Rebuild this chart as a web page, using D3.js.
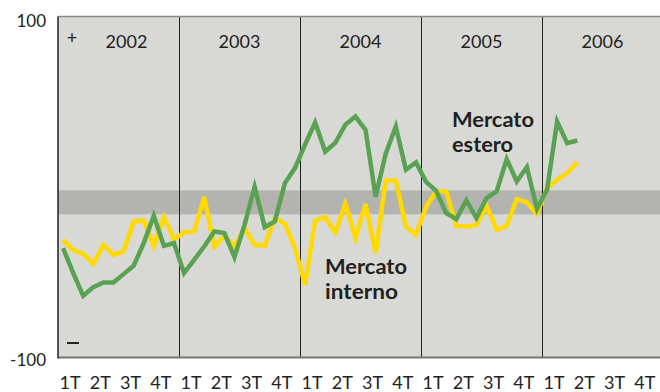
<!DOCTYPE html>
<html>
<head>
<meta charset="utf-8">
<script src="https://cdn.jsdelivr.net/npm/d3@7"></script>
<style>
  body { margin: 0; background: #fff; }
  svg { display: block; font-family: Lato, "Open Sans", sans-serif; }
</style>
</head>
<body>
<script>
// years shown in the header cells
var years = ["2002", "2003", "2004", "2005", "2006"];
var quarters = ["1T", "2T", "3T", "4T"];

// monthly values, Jan 2002 - Apr 2006
var interno = [
    -31.0, -36.8, -39.2, -45.0, -33.9, -39.8, -37.8, -20.2, -19.6, -34.5, -17.7, -30.6,
    -26.7, -26.1, -5.9, -35.2, -28.6, -34.9, -24.1, -33.9, -34.5, -18.2, -21.6, -35.7,
    -57.4, -19.8, -17.7, -26.7, -9.9, -30.0, -9.9, -38.8, 3.8, 3.8, -23.2, -28.0,
    -11.6, -2.6, -2.6, -22.8, -23.2, -22.2, -11.0, -25.1, -22.8, -7.1, -9.1, -15.7,
    -0.8, 4.2, 8.2, 14.6
];
var estero = [
    -35.8, -50.3, -63.8, -58.7, -56.0, -56.0, -51.1, -46.2, -32.9, -16.9, -34.5, -32.9,
    -50.5, -42.7, -34.9, -26.1, -27.0, -41.1, -22.2, 0.0, -23.5, -20.2, 2.3, 11.1,
    24.8, 37.8, 20.8, 25.9, 36.5, 41.3, 33.5, -5.7, 19.5, 35.5, 10.1, 14.4,
    3.0, -2.2, -15.3, -18.8, -7.9, -18.2, -6.5, -2.6, 16.4, 3.2, 11.7, -12.8,
    -1.6, 38.4, 25.7, 27.3
];
// shaded reference band
var band = [-16, -2];

function init() {
    var w = 660;
    var h = 392;
    var left = 58, right = 663, top = 16.5, bottom = 357.5;

    var svg = d3.select("body").append("svg").attr("width", w).attr("height", h);

    var xScale = d3.scaleLinear().domain([0, years.length * 12]).range([left, right]);
    var yScale = d3.scaleLinear().domain([-100, 100]).range([bottom, top]);

    // plot background
    svg.append("rect")
        .attr("x", left).attr("y", top)
        .attr("width", right - left).attr("height", bottom - top)
        .attr("fill", "#d8d9d4");

    svg.append("rect")
        .attr("x", left).attr("y", yScale(band[1]))
        .attr("width", right - left)
        .attr("height", yScale(band[0]) - yScale(band[1]))
        .attr("fill", "#b3b4af");

    // year separators
    svg.selectAll("line.year")
        .data(years.slice(1))
        .enter().append("line")
        .attr("class", "year")
        .attr("x1", function (d, i) { return Math.round(xScale((i + 1) * 12)) + 0.5; })
        .attr("x2", function (d, i) { return Math.round(xScale((i + 1) * 12)) + 0.5; })
        .attr("y1", top).attr("y2", bottom)
        .attr("stroke", "#222").attr("stroke-width", 1);

    // year labels
    svg.selectAll("text.year")
        .data(years)
        .enter().append("text")
        .attr("class", "year")
        .attr("x", function (d, i) { return xScale(i * 12 + 6) + (i == 0 ? 8 : 0); })
        .attr("y", 48)
        .attr("text-anchor", "middle")
        .attr("font-size", 18)
        .attr("fill", "#222")
        .text(function (d) { return d; });

    var line = d3.line()
        .x(function (d, i) { return xScale(i + 0.5); })
        .y(function (d) { return yScale(d); });

    svg.append("path")
        .datum(interno)
        .attr("d", line)
        .attr("fill", "none")
        .attr("stroke", "#ffd900")
        .attr("stroke-width", 4.5)
        .attr("stroke-linejoin", "miter");

    svg.append("path")
        .datum(estero)
        .attr("d", line)
        .attr("fill", "none")
        .attr("stroke", "#5aa253")
        .attr("stroke-width", 4.5)
        .attr("stroke-linejoin", "miter");

    // frame
    svg.append("line")
        .attr("x1", left).attr("x2", right).attr("y1", top).attr("y2", top)
        .attr("stroke", "#8a8a86").attr("stroke-width", 1.5);
    svg.append("line")
        .attr("x1", left).attr("x2", right).attr("y1", bottom).attr("y2", bottom)
        .attr("stroke", "#77776f").attr("stroke-width", 2);
    svg.append("line")
        .attr("x1", left).attr("x2", left).attr("y1", top).attr("y2", bottom + 1)
        .attr("stroke", "#222").attr("stroke-width", 1.5);

    // y axis labels
    var yAxis = d3.axisLeft(yScale).tickValues([-100, 100]).tickSize(0).tickPadding(12)
        .tickFormat(function (d) { return d; });
    var gy = svg.append("g")
        .attr("transform", "translate(" + left + ",0)")
        .call(yAxis);
    gy.select(".domain").remove();
    gy.selectAll("text")
        .attr("font-family", "Lato, 'Open Sans', sans-serif")
        .attr("font-size", 17)
        .attr("fill", "#222")
        .attr("dy", "0.36em");
    gy.selectAll(".tick").attr("transform", function (d) {
        return "translate(0," + (d > 0 ? 21 : 360) + ")";
    });

    // quarter labels
    var qData = [];
    years.forEach(function (y) {
        quarters.forEach(function (q) { qData.push(y + q); });
    });
    var qScale = d3.scaleBand().domain(qData).range([left, right]);
    var xAxis = d3.axisBottom(qScale).tickSize(0).tickPadding(0)
        .tickFormat(function (d) { return d.slice(4); });
    var gx = svg.append("g")
        .attr("transform", "translate(-3," + bottom + ")")
        .call(xAxis);
    gx.select(".domain").remove();
    gx.selectAll("text")
        .attr("font-family", "Lato, 'Open Sans', sans-serif")
        .attr("font-size", 18)
        .attr("fill", "#222")
        .attr("y", 31)
        .attr("dy", 0);

    // plus / minus signs
    svg.append("text")
        .attr("x", 72).attr("y", 44)
        .attr("text-anchor", "middle")
        .attr("font-size", 18)
        .attr("fill", "#222")
        .text("+");
    svg.append("line")
        .attr("x1", 67).attr("x2", 79).attr("y1", 343).attr("y2", 343)
        .attr("stroke", "#222").attr("stroke-width", 2);

    // series labels
    var labels = [
        { lines: ["Mercato", "interno"], x: 325, y: 274 },
        { lines: ["Mercato", "estero"], x: 452, y: 127 }
    ];
    labels.forEach(function (l) {
        l.lines.forEach(function (t, j) {
            svg.append("text")
                .attr("x", l.x).attr("y", l.y + j * 25)
                .attr("font-size", 20)
                .attr("font-weight", "bold")
                .attr("fill", "#231f20")
                .attr("textLength", j == 0 ? 82 : (t == "interno" ? 73 : 61))
                .attr("lengthAdjust", "spacingAndGlyphs")
                .text(t);
        });
    });
}

window.onload = init;
</script>
</body>
</html>
